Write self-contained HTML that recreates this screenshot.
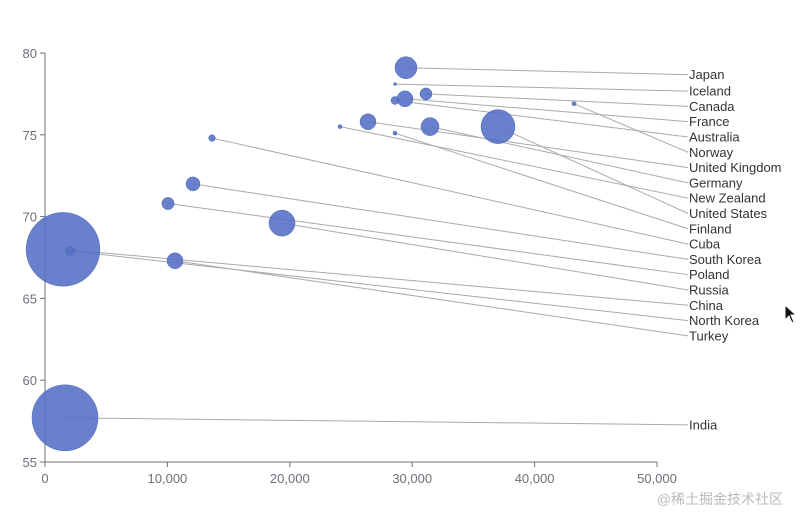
<!DOCTYPE html>
<html><head><meta charset="utf-8"><style>
body{margin:0;background:#fff;width:800px;height:526px;overflow:hidden}
text{font-family:"Liberation Sans","Noto Sans CJK SC",sans-serif}
</style></head><body>
<svg id="chart" width="800" height="526" xmlns="http://www.w3.org/2000/svg">
<g id="axes"></g>
<g id="lines"></g>
<g id="points"></g>
<g id="labels"></g>
<text x="783" y="504" text-anchor="end" font-size="14" fill="#bbb">@稀土掘金技术社区</text>
<path d="M785 305 L785 320 L789 316 L792 323 L794 322 L791 315 L796 315 Z" fill="#111" stroke="#fff" stroke-width="1"/>
</svg>
<script>
const countries=["Japan","Iceland","Canada","France","Australia","Norway","United Kingdom","Germany","New Zealand","United States","Finland","Cuba","South Korea","Poland","Russia","China","North Korea","Turkey","India"];
const gdp=[29493,28595,31128,29412,28595,43219,26389,31454,24101,37010,28595,13644,12092,10049,19363,1470,2042,10621,1634];
const lifeExp=[79.1,78.1,77.5,77.2,77.1,76.9,75.8,75.5,75.5,75.5,75.1,74.8,72.0,70.8,69.6,68.0,67.9,67.3,57.7];
const population=[121000000,300000,36000000,64000000,16000000,4600000,64000000,81000000,4000000,289000000,4000000,11000000,49000000,38000000,169000000,1359000000,20000000,64000000,1090000000];
const xTicks=[0,10000,20000,30000,40000,50000];
const yTicks=[55,60,65,70,75,80];
const NS="http://www.w3.org/2000/svg";
const X0=45,X1=657,Y0=462,Y1=53,xMin=0,xMax=50000,yMin=55,yMax=80;
const xs=v=>X0+(v-xMin)/(xMax-xMin)*(X1-X0);
const ys=v=>Y0-(v-yMin)/(yMax-yMin)*(Y0-Y1);
function mk(tag,attrs,parent,txt){const e=document.createElementNS(NS,tag);for(const k in attrs)e.setAttribute(k,attrs[k]);if(txt!=null)e.textContent=txt;parent.appendChild(e);return e;}
const axes=document.getElementById('axes'),ax='#6e7079';
let e=mk('line',{x1:X0,y1:Y0,x2:X1,y2:Y0,stroke:ax},axes);

e=mk('line',{x1:X0,y1:Y0,x2:X0,y2:Y1,stroke:ax},axes);

xTicks.forEach(t=>{const x=xs(t);
 let l=mk('line',{x1:x,y1:Y0,x2:x,y2:Y0+5,stroke:ax},axes);
 
 let s=mk('text',{x:x,y:Y0+21,'text-anchor':'middle','font-size':13,fill:ax},axes,t.toLocaleString('en-US'));
 });
yTicks.forEach(t=>{const y=ys(t);
 let l=mk('line',{x1:X0-5,y1:y,x2:X0,y2:y,stroke:ax},axes);
 
 let s=mk('text',{x:X0-8,y:y+5,'text-anchor':'end','font-size':13,fill:ax},axes,t);
 });
const pts=countries.map((c,i)=>({c,x:xs(gdp[i]),y:ys(lifeExp[i]),r:Math.sqrt(population[i])/500/2}));
const order=pts.map((p,i)=>i).sort((a,b)=>pts[a].y-pts[b].y);
let last=-1e9;const ly=[];
order.forEach(i=>{let y=Math.max(pts[i].y+7,last+15.3);ly[i]=y;last=y;});
const LX=688;
const lg=document.getElementById('lines'),pg=document.getElementById('points'),tg=document.getElementById('labels');
pts.forEach((p,i)=>{
 let l=mk('line',{x1:p.x,y1:p.y,x2:LX,y2:ly[i],stroke:'#aaa','stroke-width':1},lg);
 
 let c=mk('circle',{cx:p.x,cy:p.y,r:Math.max(p.r,1.5),fill:'#5470c6','fill-opacity':0.88,stroke:'#4a63b5','stroke-width':0.5},pg);
 
 let t=mk('text',{x:LX+1,y:ly[i]+4.5,'font-size':13,fill:'#333'},tg,p.c);
 
});
</script>
</body></html>
